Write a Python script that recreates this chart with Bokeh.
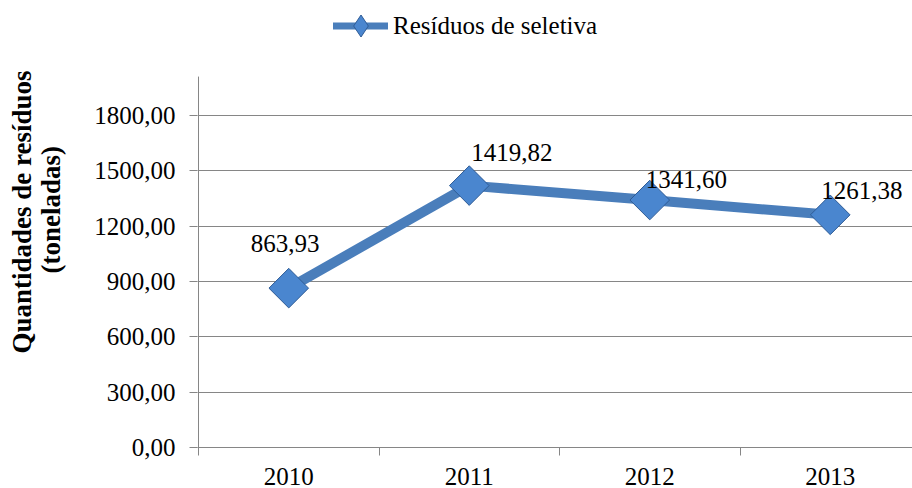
import math
from bokeh.plotting import figure
from bokeh.models import FixedTicker, Range1d, Title, Legend, LegendItem, ColumnDataSource
from bokeh.core.properties import value
from bokeh.embed import file_html
from bokeh.resources import INLINE

# ---- data ----
years = [2010, 2011, 2012, 2013]
values = [863.93, 1419.82, 1341.60, 1261.38]
series_name = "Resíduos de seletiva"
y_ticks = [0, 300, 600, 900, 1200, 1500, 1800]
y_tick_labels = ["0,00", "300,00", "600,00", "900,00", "1200,00", "1500,00", "1800,00"]
x_tick_labels = ["2010", "2011", "2012", "2013"]
axis_title = ["Quantidades de resíduos", "(toneladas)"]
y_axis_max = 2011

# ---- styles / positions ----
FONT = "Liberation Serif"
LINE_C = "#4A7EBB"
MK_FILL = "#4A86CF"
MK_LINE = "#2F5C96"
AX_C = "#868686"
label_texts = [f"{v:.2f}".replace(".", ",") for v in values]
label_dx = [-38, 2, -4, -9]
label_dy = [-45, -33, -21, -24]

PX_PER_CAT = 180.5
PX_PER_UNIT = 332 / 1800
W, H = 912, 488
LEFT, BOTTOM = 197, 41
frame_w = W - LEFT
frame_h = H - BOTTOM

x_lo = min(years) - 0.5 - 1 / PX_PER_CAT
x_hi = x_lo + frame_w / PX_PER_CAT
y_hi = frame_h / PX_PER_UNIT

p = figure(width=W, height=H, output_backend="svg", toolbar_location=None,
           x_range=Range1d(x_lo, x_hi), y_range=Range1d(0, y_hi),
           min_border_left=LEFT, min_border_right=0, min_border_top=0,
           min_border_bottom=BOTTOM)
p.outline_line_color = None
p.background_fill_color = "white"
p.border_fill_color = "white"

src = ColumnDataSource(dict(x=years, y=values, t=label_texts, dx=label_dx, dy=label_dy))

# y axis line only up to the axis max
p.segment(x0=[min(years) - 0.5], y0=[0], x1=[min(years) - 0.5], y1=[y_axis_max],
          line_color=AX_C, line_width=1)

ln = p.line("x", "y", source=src, line_color=LINE_C, line_width=10, line_join="round")
mk = p.scatter("x", "y", source=src, marker="square", angle=math.pi / 4, size=28,
               fill_color=MK_FILL, line_color=MK_LINE, line_width=1)

p.text("x", "y", text="t", source=src, x_offset="dx", y_offset="dy",
       text_font=value(FONT), text_font_size="25px", text_align="left",
       text_baseline="middle", text_color="black")

# legend-only glyphs (legend markers are never rotated, so use a diamond there);
# their single NaN point draws nothing in the plot
nan = float("nan")
dummy = ColumnDataSource(dict(x=[nan], y=[nan]))
lg_line = p.line("x", "y", source=dummy, line_color=LINE_C, line_width=7, line_cap="round")
lg_mark = p.scatter("x", "y", source=dummy, marker="diamond", fill_color=MK_FILL,
                    line_color=MK_LINE, line_width=1)

# axes
p.yaxis.ticker = FixedTicker(ticks=y_ticks)
p.yaxis.major_label_overrides = {t: l for t, l in zip(y_ticks, y_tick_labels)}
p.yaxis.axis_line_color = None
p.yaxis.major_tick_line_color = AX_C
p.yaxis.major_tick_out = 8
p.yaxis.major_tick_in = 0
p.yaxis.minor_tick_line_color = None
p.yaxis.major_label_standoff = 14
p.yaxis.major_label_text_font = FONT
p.yaxis.major_label_text_font_size = "25px"
p.yaxis.major_label_text_color = "black"
p.yaxis.axis_label = " "
p.yaxis.axis_label_text_font_size = "10px"
p.yaxis.axis_label_standoff = 12

p.xaxis.ticker = FixedTicker(ticks=years, minor_ticks=[y - 0.5 for y in years] + [max(years) + 0.5])
p.xaxis.major_label_overrides = {t: l for t, l in zip(years, x_tick_labels)}
p.xaxis.axis_line_color = AX_C
p.xaxis.major_tick_line_color = None
p.xaxis.major_tick_out = 0
p.xaxis.major_tick_in = 0
p.xaxis.minor_tick_line_color = AX_C
p.xaxis.minor_tick_out = 8
p.xaxis.minor_tick_in = 0
p.xaxis.major_label_standoff = 12
p.xaxis.major_label_text_font = FONT
p.xaxis.major_label_text_font_size = "25px"
p.xaxis.major_label_text_color = "black"

p.xgrid.grid_line_color = None
p.ygrid.ticker = FixedTicker(ticks=y_ticks[1:])
p.ygrid.grid_line_color = AX_C
p.ygrid.grid_line_width = 1

# axis title (two lines), bottom-anchored with offsets
for txt, off, so in zip(reversed(axis_title), [174, 94], [0, -6]):
    p.add_layout(Title(text=txt, align="left", offset=off, standoff=so,
                       text_font=FONT, text_font_style="bold", text_font_size="27px",
                       text_color="black"), "left")

legend = Legend(items=[LegendItem(label=series_name, renderers=[lg_line, lg_mark])],
                location=(136, 394), orientation="horizontal",
                glyph_width=55, glyph_height=55, label_standoff=5,
                padding=0, margin=0, border_line_color=None,
                background_fill_alpha=0, label_text_font=FONT,
                label_text_font_size="25px", label_text_color="black")
p.add_layout(legend)

open("out.html", "w").write(file_html(p, INLINE))
